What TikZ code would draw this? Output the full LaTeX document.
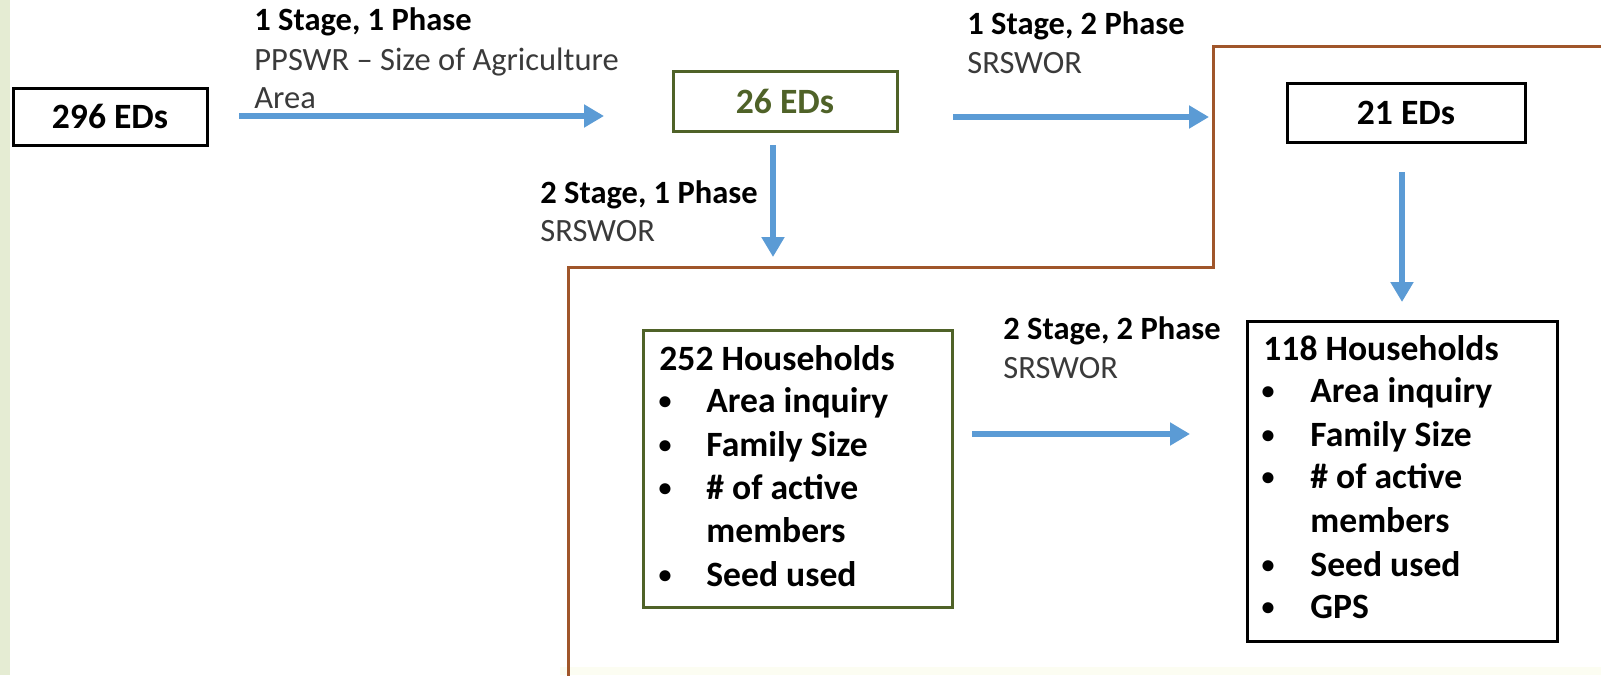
\documentclass[tikz,border=0pt]{standalone}
\usepackage{fontspec}
\setmainfont{Carlito}
\usetikzlibrary{arrows.meta}
\definecolor{flowblue}{HTML}{5B9BD5}
\definecolor{olivegreen}{HTML}{4F6228}
\definecolor{rustline}{HTML}{A0562A}
\definecolor{methodgray}{HTML}{3A3A3A}
\definecolor{sidebar}{HTML}{E5ECD3}
\definecolor{footband}{HTML}{FCFDF2}
\begin{document}
\begin{tikzpicture}[x=0.5pt,y=-0.5pt,
  plainbox/.style={draw=black,line width=1.5pt,inner sep=0pt,
    font=\fontsize{17.8}{21}\selectfont\bfseries},
  greenbox/.style={plainbox,draw=olivegreen},
  flow/.style={draw=flowblue,line width=3.4pt,
    -{Triangle[length=10pt,width=11pt]}},
  stagelbl/.style={anchor=base west,inner sep=0pt,
    font=\fontsize{16.25}{19.5}\selectfont\bfseries},
  methodlbl/.style={anchor=base west,inner sep=0pt,text=methodgray,
    font=\fontsize{16.25}{19.5}\selectfont},
  listhead/.style={anchor=base west,inner sep=0pt,
    font=\fontsize{17.8}{21}\selectfont\bfseries},
  listdot/.style={anchor=base,inner sep=0pt,yshift=1.2pt,
    font=\fontsize{13}{15}\selectfont\bfseries},
  listitem/.style={anchor=base west,inner sep=0pt,
    font=\fontsize{17.8}{21}\selectfont\bfseries}]

% canvas and page decoration
\fill[white] (0,0) rectangle (1601,675);
\useasboundingbox (0,0) rectangle (1601,675);
\fill[sidebar] (0,0) rectangle (10,675);
\fill[footband] (560,667) rectangle (1601,675);

% second-phase region outline
\coordinate (r1) at (1601,46);
\coordinate (r2) at (1213,46);
\coordinate (r3) at (1213,267);
\coordinate (r4) at (568,267);
\coordinate (r5) at (568,676);
\draw[rustline,line width=1.5pt,line join=miter] (r1) -- (r2) -- (r3) -- (r4) -- (r5);

% enumeration-district boxes
\node[plainbox,minimum width=97pt,minimum height=28.5pt] (ed296) at (110,116.5) {296 EDs};
\node[greenbox,minimum width=112pt,minimum height=30pt,text=olivegreen] (ed26) at (785,101) {26 EDs};
\node[plainbox,minimum width=119pt,minimum height=29.5pt] (ed21) at (1406,112.5) {21 EDs};

% household boxes
\node[greenbox,minimum width=154.5pt,minimum height=138.5pt] (hh252) at (797.5,468.5) {};
\node[plainbox,minimum width=155pt,minimum height=160pt] (hh118) at (1402,481) {};

% household box contents
\node[listhead] (h252) at (659,370) {252 Households};
\foreach \yy/\txt [count=\i] in {412/Area inquiry,456/Family Size,499/\# of active,586/Seed used}{
  \node[listdot] (d252-\i) at (665,\yy) {•};
  \node[listitem] (t252-\i) at (706,\yy) {\txt};
}
\node[listitem] (t252-m) at (706,542) {members};

\node[listhead] (h118) at (1263,360) {118 Households};
\foreach \yy/\txt [count=\i] in {402/Area inquiry,446/Family Size,488/\# of active,576/Seed used,618/GPS}{
  \node[listdot] (d118-\i) at (1268,\yy) {•};
  \node[listitem] (t118-\i) at (1310,\yy) {\txt};
}
\node[listitem] (t118-m) at (1310,532) {members};

% arrow end points
\coordinate (a1s) at (239,116);  \coordinate (a1e) at (604,116);
\coordinate (a2s) at (953,117);  \coordinate (a2e) at (1209,117);
\coordinate (a3s) at (773,145);  \coordinate (a3e) at (773,257);
\coordinate (a4s) at (1402,172); \coordinate (a4e) at (1402,302);
\coordinate (a5s) at (972,434);  \coordinate (a5e) at (1190,434);

\draw[flow] (a1s) -- (a1e);
\draw[flow] (a2s) -- (a2e);
\draw[flow] (a3s) -- (a3e);
\draw[flow] (a4s) -- (a4e);
\draw[flow] (a5s) -- (a5e);

% sampling design labels
\node[stagelbl] (s11) at (254,30) {1 Stage, 1 Phase};
\node[methodlbl] (m11a) at (254,70) {PPSWR – Size of Agriculture};
\node[methodlbl] (m11b) at (254,108) {Area};

\node[stagelbl] (s12) at (967,34) {1 Stage, 2 Phase};
\node[methodlbl] (m12) at (967,73) {SRSWOR};

\node[stagelbl] (s21) at (540,203) {2 Stage, 1 Phase};
\node[methodlbl] (m21) at (540,241) {SRSWOR};

\node[stagelbl] (s22) at (1003,339) {2 Stage, 2 Phase};
\node[methodlbl] (m22) at (1003,378) {SRSWOR};
\end{tikzpicture}
\end{document}
